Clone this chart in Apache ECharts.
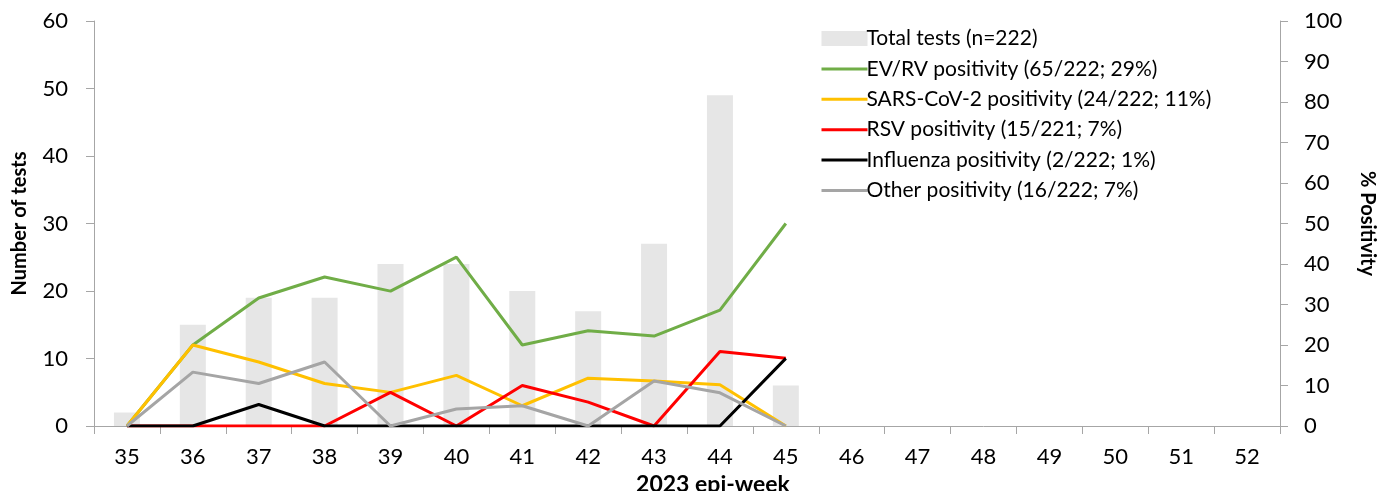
<!DOCTYPE html>
<html>
<head>
<meta charset="utf-8">
<script src="https://cdn.jsdelivr.net/npm/echarts@6/dist/echarts.min.js"></script>
<style>
  html, body { margin: 0; padding: 0; background: #fff; }
  #chart { width: 1393px; height: 491px; }
</style>
</head>
<body>
<div id="chart"></div>
<script>
// epi-weeks shown on the x axis
var weeks = ["35", "36", "37", "38", "39", "40", "41", "42", "43", "44", "45", "46", "47", "48", "49", "50", "51", "52"];
// total tests per week (left axis)
var totalTests = [2, 15, 19, 19, 24, 24, 20, 17, 27, 49, 6];
// % positivity per week (right axis), weeks 35-45
var evrv = [0, 20, 31.6, 36.8, 33.3, 41.7, 20, 23.5, 22.2, 28.6, 50];
var sars = [0, 20, 15.8, 10.5, 8.3, 12.5, 5, 11.8, 11.1, 10.2, 0];
var rsv = [0, 0, 0, 0, 8.3, 0, 10, 5.9, 0, 18.4, 16.7];
var flu = [0, 0, 5.3, 0, 0, 0, 0, 0, 0, 0, 16.7];
var other = [0, 13.3, 10.5, 15.8, 0, 4.2, 5, 0, 11.1, 8.2, 0];

var names = [
  "Total tests (n=222)",
  "EV/RV positivity (65/222; 29%)",
  "SARS-CoV-2 positivity (24/222; 11%)",
  "RSV positivity (15/221; 7%)",
  "Influenza positivity (2/222; 1%)",
  "Other positivity (16/222; 7%)"
];

var font = "Lato";
var axisColor = "#a6a6a6";

function lineSeries(name, data, color) {
  return {
    name: name,
    type: "line",
    yAxisIndex: 1,
    data: data,
    symbol: "none",
    lineStyle: { color: color, width: 3 },
    itemStyle: { color: color },
    z: 3
  };
}

function lineLegend(name) {
  // line only in the legend, no marker
  return { name: name, itemStyle: { opacity: 0 } };
}

var chart = echarts.init(document.getElementById("chart"));
var option = {
  animation: false,
  textStyle: { fontFamily: font },
  grid: { left: 94, right: 113, top: 21, bottom: 65, outerBoundsMode: "none", containLabel: false },
  legend: {
    orient: "vertical",
    left: 815,
    top: 23,
    itemWidth: 46,
    itemHeight: 15,
    itemGap: 9.4,
    lineStyle: { width: 3 },
    textStyle: { fontFamily: font, fontSize: 21, color: "#000", padding: [0, 0, 0, -6] },
    data: [
      { name: names[0], icon: "rect" },
      lineLegend(names[1]), lineLegend(names[2]), lineLegend(names[3]),
      lineLegend(names[4]), lineLegend(names[5])
    ]
  },
  xAxis: {
    type: "category",
    data: weeks,
    name: "2023 epi-week",
    nameLocation: "middle",
    nameGap: 44,
    nameTextStyle: { fontFamily: font, fontSize: 23, fontWeight: "bold", color: "#000", padding: [0, 0, 0, 52] },
    axisLine: { lineStyle: { color: axisColor, width: 1 } },
    axisTick: { show: true, length: 8, lineStyle: { color: axisColor } },
    axisLabel: { fontSize: 22, color: "#000", margin: 20 }
  },
  yAxis: [
    {
      type: "value",
      min: 0,
      max: 60,
      interval: 10,
      name: "Number of tests",
      nameLocation: "middle",
      nameGap: 64,
      nameTextStyle: { fontFamily: font, fontSize: 20, fontWeight: "bold", color: "#000" },
      splitLine: { show: false },
      axisLine: { show: true, lineStyle: { color: axisColor, width: 1 } },
      axisTick: { show: true, length: 8, lineStyle: { color: axisColor } },
      axisLabel: { fontSize: 22, color: "#000", margin: 26 }
    },
    {
      type: "value",
      min: 0,
      max: 100,
      interval: 10,
      position: "right",
      name: "% Positivity",
      nameLocation: "middle",
      nameGap: 77,
      nameRotate: -90,
      nameTextStyle: { fontFamily: font, fontSize: 20, fontWeight: "bold", color: "#000" },
      splitLine: { show: false },
      axisLine: { show: true, lineStyle: { color: axisColor, width: 1 } },
      axisTick: { show: true, length: 8, lineStyle: { color: axisColor } },
      axisLabel: { fontSize: 22, color: "#000", margin: 24 }
    }
  ],
  series: [
    {
      name: names[0],
      type: "bar",
      data: totalTests,
      barWidth: 26,
      itemStyle: { color: "#e6e6e6" },
      z: 1
    },
    lineSeries(names[1], evrv, "#70ad47"),
    lineSeries(names[2], sars, "#ffc000"),
    lineSeries(names[3], rsv, "#ff0000"),
    lineSeries(names[4], flu, "#000000"),
    lineSeries(names[5], other, "#a5a5a5")
  ]
};
chart.setOption(option);
</script>
</body>
</html>
